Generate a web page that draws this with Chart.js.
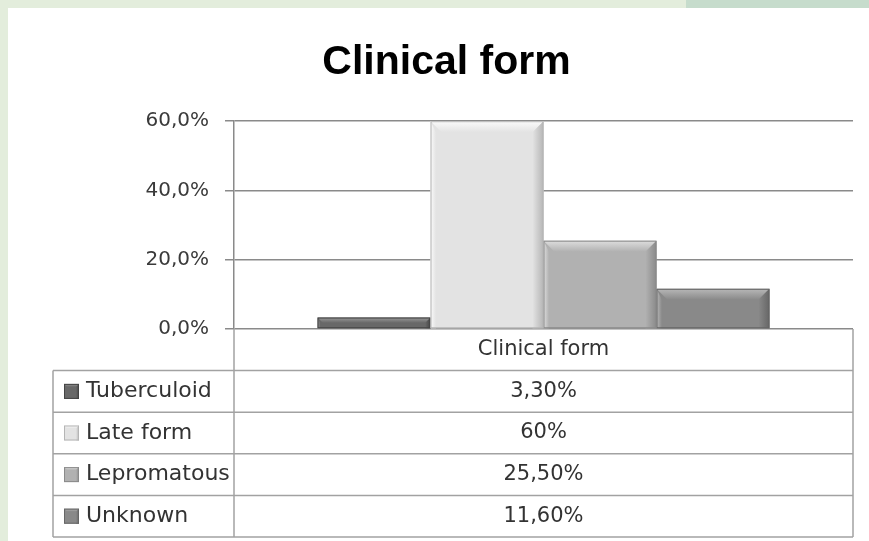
<!DOCTYPE html>
<html>
<head>
<meta charset="utf-8">
<script src="https://cdn.jsdelivr.net/npm/chart.js@4/dist/chart.umd.min.js"></script>
<style>
  html, body { margin: 0; padding: 0; }
  body { width: 869px; height: 541px; background: #e3eddc; position: relative; overflow: hidden; }
  .strip { position: absolute; left: 686px; top: 0; width: 183px; height: 8px; background: #c6dccc; }
  .card { position: absolute; left: 8px; top: 8px; width: 861px; height: 533px; background: #fff; }
</style>
</head>
<body>
<div class="strip"></div>
<div class="card"><canvas id="formChart" width="861" height="533"></canvas></div>
<script>
'use strict';

const categories = ['Clinical form'];
const forms = ['Tuberculoid', 'Late form', 'Lepromatous', 'Unknown'];
const shares = [3.3, 60, 25.5, 11.6];
const shareText = ['3,30%', '60%', '25,50%', '11,60%'];
const yMax = 60;
const yStep = 20;

// face / highlight / shadow per series
const faces = ['#686868', '#e3e3e3', '#b1b1b1', '#898989'];
const lights = ['#9a9a9a', '#fbfbfb', '#dedede', '#b8b8b8'];
const darks = ['#444444', '#b5b5b5', '#8a8a8a', '#666666'];

function poly(ctx, pts, fill) {
    ctx.beginPath();
    ctx.moveTo(pts[0][0], pts[0][1]);
    pts.slice(1).forEach(p => ctx.lineTo(p[0], p[1]));
    ctx.closePath();
    ctx.fillStyle = fill;
    ctx.fill();
}

function drawBevel(ctx, l, r, t, b, i, depth) {
    const d = Math.min(depth, (b - t) / 2, (r - l) / 2);
    const topGrad = ctx.createLinearGradient(0, t, 0, t + d);
    topGrad.addColorStop(0, lights[i]);
    topGrad.addColorStop(1, faces[i]);
    poly(ctx, [[l, t], [r, t], [r - d, t + d], [l + d, t + d]], topGrad);
    const rightGrad = ctx.createLinearGradient(r - d, 0, r, 0);
    rightGrad.addColorStop(0, faces[i]);
    rightGrad.addColorStop(1, darks[i]);
    poly(ctx, [[r, t], [r, b], [r - d, b], [r - d, t + d]], rightGrad);
    const leftGrad = ctx.createLinearGradient(l, 0, l + d * 0.5, 0);
    leftGrad.addColorStop(0, lights[i]);
    leftGrad.addColorStop(1, faces[i]);
    poly(ctx, [[l, t], [l + d * 0.5, t + d], [l + d * 0.5, b], [l, b]], leftGrad);
    ctx.strokeStyle = darks[i];
    ctx.lineWidth = 1;
    ctx.strokeRect(l + 0.5, t + 0.5, r - l - 1, b - t - 1);
}

const bevelPlugin = {
    id: 'bevel',
    afterDatasetsDraw(chart) {
        const ctx = chart.ctx;
        ctx.save();
        chart.data.datasets.forEach((ds, i) => {
            const bar = chart.getDatasetMeta(i).data[0];
            const p = bar.getProps(['x', 'y', 'base', 'width'], true);
            drawBevel(ctx, p.x - p.width / 2, p.x + p.width / 2, p.y, p.base, i, 11);
        });
        ctx.restore();
    }
};

const tablePlugin = {
    id: 'dataTable',
    afterDraw(chart) {
        const ctx = chart.ctx;
        const area = chart.chartArea;
        const top = chart.scales.y.getPixelForValue(0);
        const bottom = chart.height - 4;
        const rowH = (bottom - top) / (forms.length + 1);
        const tableLeft = area.left - 181;
        const mid = (area.left + area.right) / 2;

        ctx.save();
        ctx.strokeStyle = '#a2a2a2';
        ctx.lineWidth = 1.5;
        ctx.beginPath();
        ctx.moveTo(area.left, top);
        ctx.lineTo(area.left, bottom);
        ctx.moveTo(area.right, top);
        ctx.lineTo(area.right, bottom);
        ctx.moveTo(tableLeft, top + rowH);
        ctx.lineTo(tableLeft, bottom);
        for (let r = 1; r <= forms.length + 1; r++) {
            const y = top + rowH * r;
            ctx.moveTo(tableLeft, y);
            ctx.lineTo(area.right, y);
        }
        ctx.stroke();

        ctx.fillStyle = '#333';
        ctx.textBaseline = 'middle';
        ctx.textAlign = 'center';
        ctx.font = '21px "DejaVu Sans"';
        ctx.fillText(categories[0], mid, top + rowH / 2);

        forms.forEach((name, i) => {
            const cy = top + rowH * (i + 1.5);
            // legend key in the table
            ctx.fillStyle = faces[i];
            ctx.fillRect(tableLeft + 11, cy - 7.5, 15, 15);
            drawBevel(ctx, tableLeft + 11, tableLeft + 26, cy - 7.5, cy + 7.5, i, 3);
            ctx.fillStyle = '#333';
            ctx.font = '22px "DejaVu Sans"';
            ctx.textAlign = 'left';
            ctx.fillText(name, tableLeft + 33, cy);
            ctx.font = '21px "DejaVu Sans"';
            ctx.textAlign = 'center';
            ctx.fillText(shareText[i], mid, cy);
        });
        ctx.restore();
    }
};

const datasets = forms.map((name, i) => ({
    label: name,
    data: [shares[i]],
    backgroundColor: faces[i],
    borderWidth: 0,
    categoryPercentage: 0.73,
    barPercentage: 1
}));

new Chart(document.getElementById('formChart'), {
    type: 'bar',
    data: { labels: categories, datasets: datasets },
    options: {
        responsive: false,
        animation: false,
        layout: { padding: { left: 32, right: 16, top: 0, bottom: 212 } },
        plugins: {
            legend: { display: false },
            tooltip: { enabled: false },
            title: {
                display: true,
                text: 'Clinical form',
                color: '#000',
                font: { family: '"Liberation Sans", sans-serif', size: 41, weight: 'bold' },
                padding: { top: 30, bottom: 34 }
            }
        },
        scales: {
            x: { display: false },
            y: {
                min: 0,
                max: yMax,
                afterFit(scale) { scale.width = 194; },
                ticks: {
                    stepSize: yStep,
                    padding: 16,
                    color: '#3a3a3a',
                    font: { family: '"DejaVu Sans"', size: 20 },
                    callback: v => v.toFixed(1).replace('.', ',') + '%'
                },
                grid: { color: '#8a8a8a', lineWidth: 1.5, tickLength: 9 },
                border: { color: '#8a8a8a', width: 1.5 }
            }
        }
    },
    plugins: [bevelPlugin, tablePlugin]
});
</script>
</body>
</html>
